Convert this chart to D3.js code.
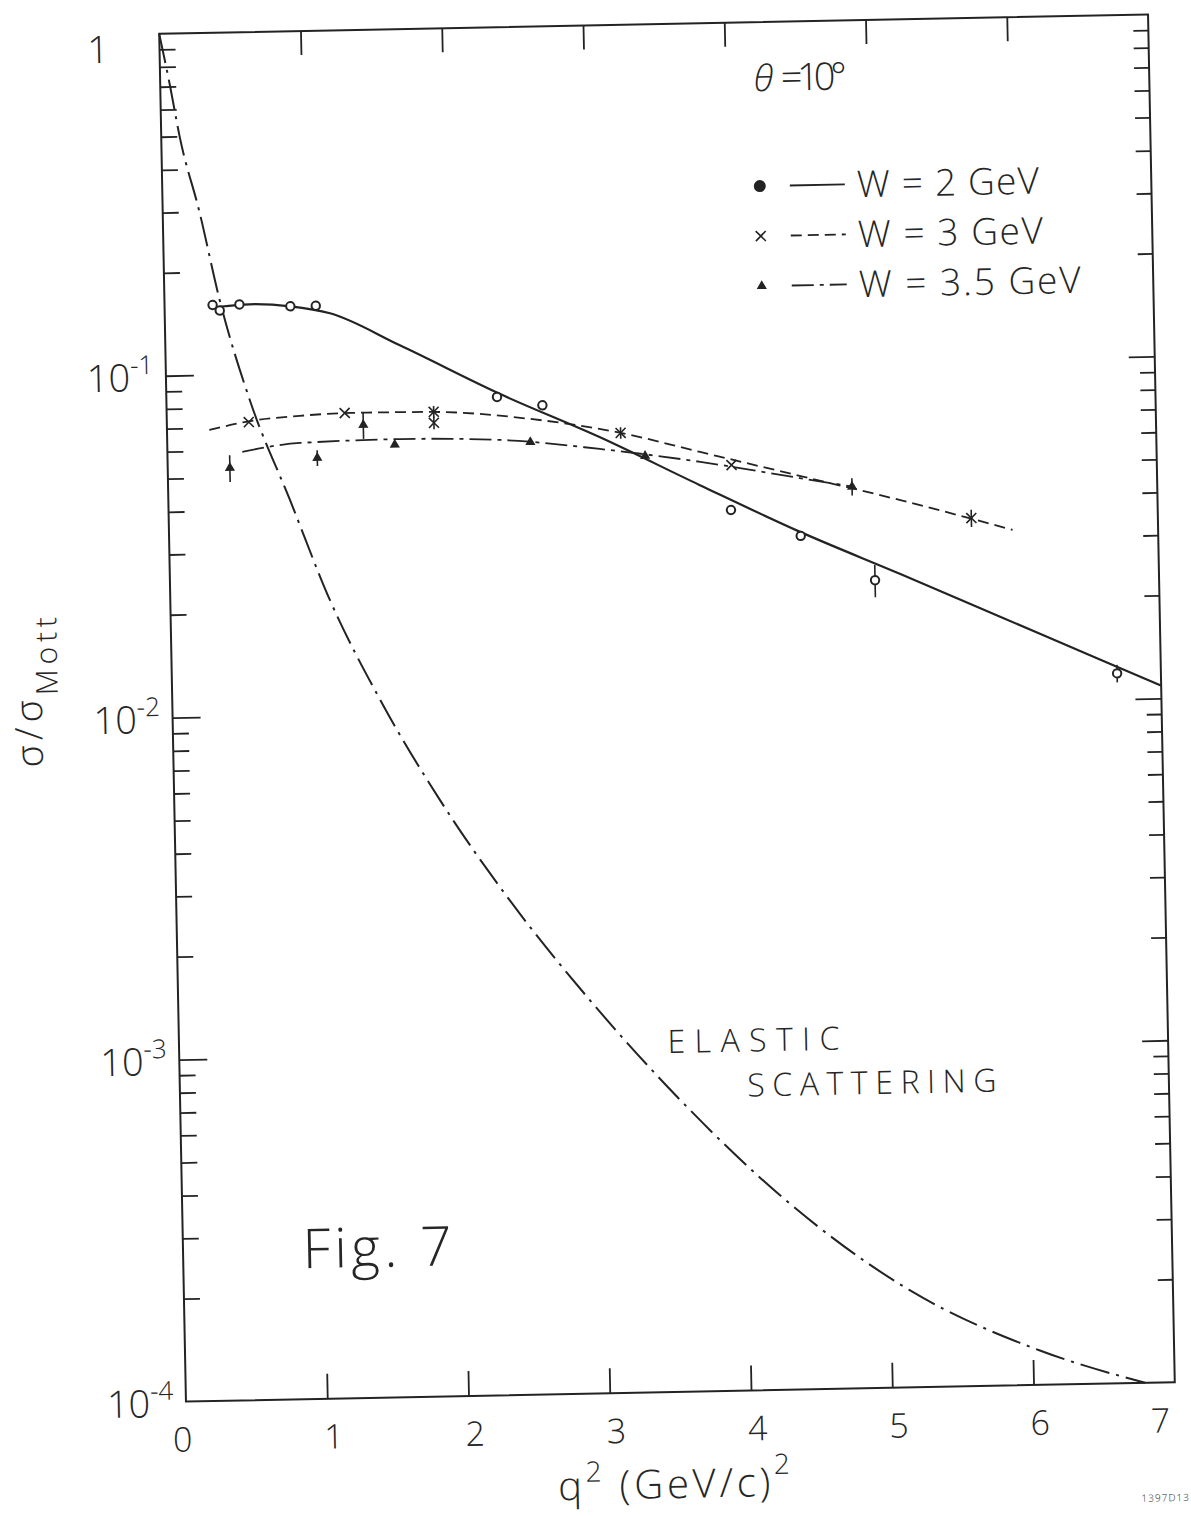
<!DOCTYPE html>
<html>
<head>
<meta charset="utf-8">
<script src="https://cdn.jsdelivr.net/npm/d3@7"></script>
<style>
  body { margin: 0; background: #fff; }
  svg text { font-family: "Open Sans", "DejaVu Sans", sans-serif; font-weight: 300; fill: #262626; }
</style>
</head>
<body>
<svg id="chart" width="1191" height="1517"></svg>
<script>
// axis values
const xTicks = [0, 1, 2, 3, 4, 5, 6, 7];
const yDecades = [-4, -3, -2, -1, 0];

// W = 2 GeV data points and fitted curve
const w2Q2 = [0.34, 0.39, 0.53, 0.89, 1.07, 2.34, 2.66, 3.98, 4.47, 4.99, 6.69];
const w2Sigma = [0.160, 0.154, 0.160, 0.157, 0.157, 0.083, 0.078, 0.0376, 0.0313, 0.0230, 0.0119];
const w2Err = [0, 0, 0, 0, 0, 0, 0, 0, 0, 0.0025, 0.0007];
const w2CurveQ2 = [0.39, 0.60, 0.89, 1.17, 1.66, 2.36, 3.06, 3.76, 4.47, 5.17, 5.87, 6.57, 7.0];
const w2CurveSigma = [0.158, 0.160, 0.157, 0.149, 0.119, 0.0847, 0.0625, 0.0447, 0.0321, 0.0239, 0.0177, 0.0131, 0.0109];

// W = 3 GeV
const w3Q2 = [0.58, 1.26, 1.89, 1.89, 3.21, 3.99, 5.68];
const w3Sigma = [0.0724, 0.0760, 0.0757, 0.0703, 0.0641, 0.0509, 0.0345];
const w3Err = [0, 0, 0.003, 0.003, 0.0025, 0, 0.002];
const w3CurveQ2 = [0.30, 0.59, 0.94, 1.30, 1.86, 2.57, 3.21, 3.77, 4.47, 5.18, 5.97];
const w3CurveSigma = [0.069, 0.0729, 0.075, 0.076, 0.0757, 0.0713, 0.0641, 0.0558, 0.0469, 0.0393, 0.0317];

// W = 3.5 GeV
const w35Q2 = [0.44, 1.06, 1.39, 1.61, 2.57, 3.38, 4.84];
const w35Sigma = [0.0533, 0.0564, 0.070, 0.061, 0.061, 0.0547, 0.0433];
const w35Err = [0.0048, 0.003, 0.0063, 0, 0, 0, 0.0025];
const w35CurveQ2 = [0.53, 0.94, 1.65, 2.36, 3.06, 3.77, 4.47, 4.86];
const w35CurveSigma = [0.0593, 0.0625, 0.0633, 0.0621, 0.0577, 0.0522, 0.0462, 0.0432];

// elastic scattering curve
const elasticQ2 = [0, 0.07, 0.13, 0.26, 0.39, 0.59, 0.86, 1.13, 1.47, 1.88, 2.36, 2.91, 3.54, 4.27, 5.14, 6.05, 6.79];
const elasticSigma = [1.0, 0.70, 0.50, 0.30, 0.166, 0.084, 0.0427, 0.0216, 0.011, 0.00555, 0.0028, 0.00142, 0.000713, 0.000359, 0.000192, 0.000126, 0.0001];

const legendLabels = ["W = 2  GeV", "W = 3  GeV", "W = 3.5  GeV"];

const ink = "#232323";
const plot = { left: 172.5, right: 1161.5, top: 24, bottom: 1392 };

const svg = d3.select("#chart");
// the scanned figure sits slightly rotated on the page
const g = svg.append("g").attr("transform", "rotate(-1.12 667 708)");

const x = d3.scaleLinear().domain([0, 7]).range([plot.left, plot.right]);
const y = d3.scaleLog().domain([1e-4, 1]).range([plot.bottom, plot.top]);

const majors = yDecades.map(e => Math.pow(10, e));
const minors = [];
yDecades.slice(0, -1).forEach(e => {
  for (let m = 2; m <= 9; m++) minors.push(m * Math.pow(10, e));
});

function styleAxis(sel) {
  sel.select(".domain").remove();
  sel.selectAll("text").remove();
  sel.selectAll("line").attr("stroke", ink).attr("stroke-width", 1.8);
}

// frame
g.append("rect")
  .attr("x", x(0)).attr("y", y(1))
  .attr("width", x(7) - x(0)).attr("height", y(1e-4) - y(1))
  .attr("fill", "none").attr("stroke", ink).attr("stroke-width", 2);

// ticks on all four sides
g.append("g").attr("transform", `translate(0,${plot.bottom})`)
  .call(d3.axisTop(x).tickValues(xTicks.slice(1, -1)).tickSize(25)).call(styleAxis);
g.append("g").attr("transform", `translate(0,${plot.top})`)
  .call(d3.axisBottom(x).tickValues(xTicks.slice(1, -1)).tickSize(24)).call(styleAxis);
g.append("g").attr("transform", `translate(${plot.left},0)`)
  .call(d3.axisRight(y).tickValues(majors.slice(1, -1)).tickSize(28)).call(styleAxis);
g.append("g").attr("transform", `translate(${plot.left},0)`)
  .call(d3.axisRight(y).tickValues(minors).tickSize(16)).call(styleAxis);
g.append("g").attr("transform", `translate(${plot.right},0)`)
  .call(d3.axisLeft(y).tickValues(majors.slice(1, -1)).tickSize(26)).call(styleAxis);
g.append("g").attr("transform", `translate(${plot.right},0)`)
  .call(d3.axisLeft(y).tickValues(minors).tickSize(15)).call(styleAxis);

// x tick labels (hand lettered, so not quite centred on the ticks)
g.selectAll(".xlab").data(xTicks).join("text")
  .attr("class", "xlab")
  .attr("x", d => x(d) + (d === 0 ? -4 : d === 7 ? -15 : 6))
  .attr("y", plot.bottom + 50)
  .attr("text-anchor", "middle")
  .attr("font-size", 34)
  .text(d => d);

// y tick labels
yDecades.forEach(e => {
  const t = g.append("text").attr("text-anchor", "end");
  if (e === 0) {
    t.attr("x", 122).attr("y", y(1) + 28).attr("font-size", 38).text("1");
  } else {
    t.attr("x", 160).attr("y", y(Math.pow(10, e)) + 15);
    t.append("tspan").attr("font-size", 38).text("10");
    t.append("tspan").attr("font-size", 26).attr("dy", -17).text("-" + Math.abs(e));
  }
});

// axis titles
const xt = g.append("text").attr("x", 543).attr("y", 1498)
  .attr("textLength", 232).attr("lengthAdjust", "spacing");
xt.append("tspan").attr("font-size", 40).text("q");
xt.append("tspan").attr("font-size", 28).attr("dy", -18).text("2");
xt.append("tspan").attr("font-size", 40).attr("dy", 18).text(" (GeV/c)");
xt.append("tspan").attr("font-size", 28).attr("dy", -22).text("2");

const yt = g.append("text")
  .attr("transform", "translate(42,680) rotate(-90)")
  .attr("text-anchor", "middle")
  .attr("textLength", 150).attr("lengthAdjust", "spacing");
yt.append("tspan").attr("font-size", 38).text("σ/σ");
yt.append("tspan").attr("font-size", 30).attr("dy", 16).text("Mott");

// curves
const line = d3.line()
  .x(d => x(d[0]))
  .y(d => y(d[1]))
  .curve(d3.curveMonotoneX);

const curves = [
  { q2: elasticQ2, sigma: elasticSigma, dash: "30,7,3,7", width: 2 },
  { q2: w2CurveQ2, sigma: w2CurveSigma, dash: null, width: 2.2 },
  { q2: w3CurveQ2, sigma: w3CurveSigma, dash: "11,6", width: 1.8 },
  { q2: w35CurveQ2, sigma: w35CurveSigma, dash: "22,6,4,6", width: 1.8 }
];

curves.forEach(c => {
  g.append("path")
    .datum(d3.zip(c.q2, c.sigma))
    .attr("d", line)
    .attr("fill", "none")
    .attr("stroke", ink)
    .attr("stroke-width", c.width)
    .attr("stroke-dasharray", c.dash);
});

// error bars
function errorBars(q2, sigma, err) {
  d3.zip(q2, sigma, err).filter(d => d[2] > 0).forEach(d => {
    g.append("line")
      .attr("x1", x(d[0])).attr("x2", x(d[0]))
      .attr("y1", y(d[1] - d[2])).attr("y2", y(d[1] + d[2]))
      .attr("stroke", ink).attr("stroke-width", 1.6);
  });
}
errorBars(w2Q2, w2Sigma, w2Err);
errorBars(w3Q2, w3Sigma, w3Err);
errorBars(w35Q2, w35Sigma, w35Err);

// markers
function circleMark(sel, filled) {
  sel.append("circle").attr("r", filled ? 5 : 4.2)
    .attr("fill", filled ? ink : "#fff")
    .attr("stroke", ink).attr("stroke-width", 2);
}
function crossMark(sel) {
  sel.append("path").attr("d", "M-5,-5L5,5M-5,5L5,-5")
    .attr("stroke", ink).attr("stroke-width", 1.6).attr("fill", "none");
}
function triMark(sel) {
  sel.append("path").attr("d", d3.symbol(d3.symbolTriangle, 45))
    .attr("fill", ink);
}

function drawPoints(q2, sigma, mark) {
  d3.zip(q2, sigma).forEach(d => {
    const p = g.append("g").attr("transform", `translate(${x(d[0])},${y(d[1])})`);
    mark(p, false);
  });
}
drawPoints(w2Q2, w2Sigma, circleMark);
drawPoints(w3Q2, w3Sigma, crossMark);
drawPoints(w35Q2, w35Sigma, triMark);

// theta label
g.append("text").attr("x", 766).attr("y", 93)
  .attr("font-size", 36).attr("font-style", "italic").text("θ");
g.append("text").attr("x", 793).attr("y", 93)
  .attr("font-size", 38).attr("textLength", 66).attr("lengthAdjust", "spacing")
  .text("=10°");

// legend
const legendMarks = [circleMark, crossMark, triMark];
const legendDash = [null, "11,6", "22,6,4,6"];
const legendWidths = [182, 185, 222];
legendLabels.forEach((label, i) => {
  const cy = 188 + i * 50;
  const m = g.append("g").attr("transform", `translate(770,${cy})`);
  legendMarks[i](m, true);
  g.append("line")
    .attr("x1", 800).attr("x2", 855).attr("y1", cy).attr("y2", cy)
    .attr("stroke", ink).attr("stroke-width", 1.8)
    .attr("stroke-dasharray", legendDash[i]);
  g.append("text")
    .attr("x", 867).attr("y", cy + 13)
    .attr("font-size", 37)
    .attr("textLength", legendWidths[i]).attr("lengthAdjust", "spacing")
    .text(label);
});

// annotations
g.append("text").attr("x", 661).attr("y", 1053).attr("font-size", 32)
  .attr("textLength", 172).attr("lengthAdjust", "spacing").text("ELASTIC");
g.append("text").attr("x", 740).attr("y", 1098).attr("font-size", 32)
  .attr("textLength", 249).attr("lengthAdjust", "spacing").text("SCATTERING");
g.append("text").attr("x", 292).attr("y", 1261).attr("font-size", 55)
  .attr("textLength", 149).attr("lengthAdjust", "spacing").text("Fig. 7");
g.append("text").attr("x", 1126).attr("y", 1511).attr("font-size", 10)
  .attr("letter-spacing", 1).text("1397D13");
</script>
</body>
</html>
